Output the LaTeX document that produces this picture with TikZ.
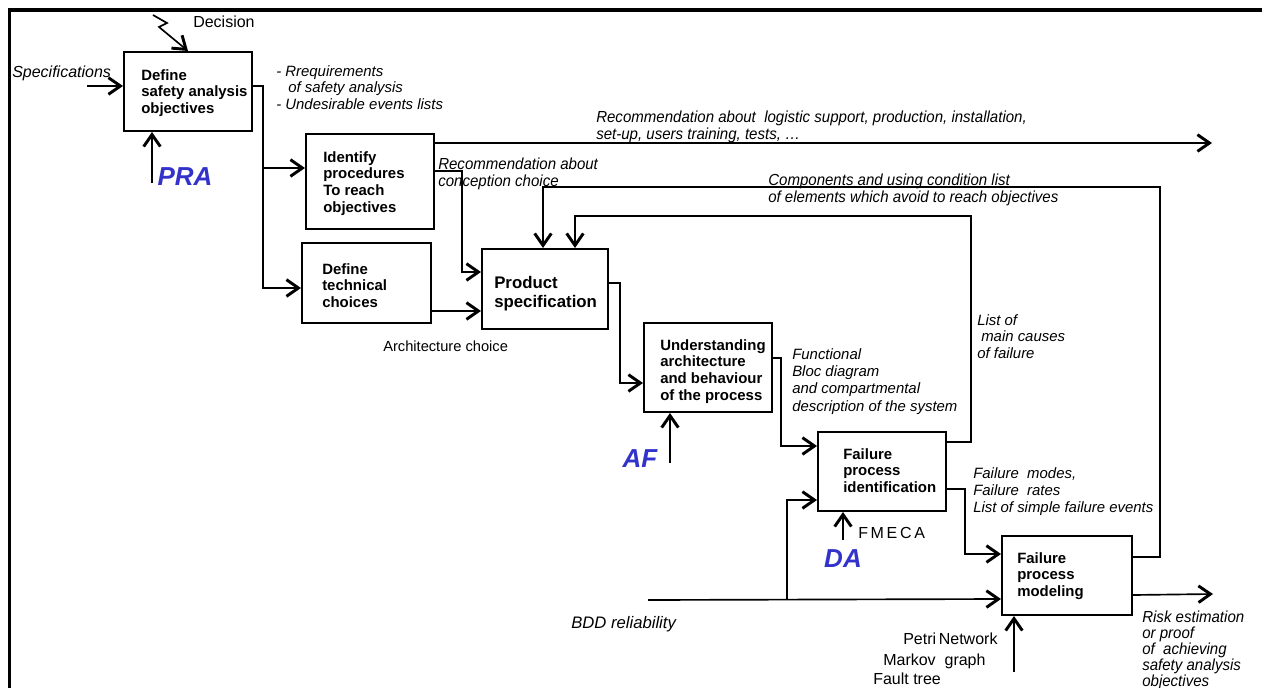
\documentclass[tikz,border=0pt]{standalone}
\usepackage{fontspec}
\setmainfont{Liberation Sans}
\newfontfamily\narrowfont[FakeStretch=0.94]{Liberation Sans}
\usetikzlibrary{arrows.meta,fit}
\definecolor{ablue}{RGB}{51,51,204}
\tikzset{
  box/.style={draw, line width=1.5pt, inner sep=0pt},
  conn/.style={line width=1.25pt, -{Straight Barb[length=9pt,width=12.5pt,line width=2.2pt]}},
  btxt/.style={anchor=north west, inner sep=0pt, align=left, font=\fontsize{11.2}{12.6}\selectfont\bfseries},
  ltxt/.style={anchor=north west, inner sep=0pt, align=left, font=\fontsize{11.2}{12.4}\selectfont\itshape},
  ntxt/.style={anchor=north west, inner sep=0pt, align=left, font=\narrowfont\fontsize{12}{12.6}\selectfont\itshape},
  utxt/.style={anchor=north west, inner sep=0pt, align=left, font=\fontsize{12}{14}\selectfont},
  big/.style={inner sep=0pt, text=ablue, font=\fontsize{19.5}{21}\selectfont\bfseries\itshape}
}
\begin{document}
\begin{tikzpicture}[x={(0.75pt,0)}, y={(0,-0.75pt)}]
\useasboundingbox (0,0) rectangle (1262,688);
% frame
\draw[line width=2.3pt] (1262,10) -- (9.5,10) -- (9.5,688);

% boxes
\node[box, fit={(124,52) (252,131)}] (b1) {};
\node[box, fit={(306,134) (434,229)}] (b2) {};
\node[box, fit={(302,243) (431,323)}] (b3) {};
\node[box, fit={(482,249) (608,329)}] (b4) {};
\node[box, fit={(644,323) (772,412)}] (b5) {};
\node[box, fit={(818,432) (946,511)}] (fpi) {};
\node[box, fit={(1002,536) (1132,615)}] (b6) {};

% box texts
\node[btxt] (t1) at (141,69) {Define\\safety analysis\\objectives};
\node[btxt] (t2) at (323,151) {Identify\\procedures\\To reach\\objectives};
\node[btxt] (t3) at (322,263) {Define\\technical\\choices};
\node[btxt, font=\fontsize{12.6}{14.6}\selectfont\bfseries] (t4) at (494,276) {Product\\specification};
\node[btxt] (t5) at (660,339) {Understanding\\architecture\\and behaviour\\of the process};
\node[btxt] (t6) at (843,448) {Failure\\process\\identification};
\node[btxt] (t7) at (1017,552) {Failure\\process\\modeling};

% labels
\node[utxt] (ldec) at (193,16) {Decision};
\node[ltxt, font=\fontsize{12}{14}\selectfont\itshape] (lspec) at (12,66) {Specifications};
\node[ltxt] (lreq) at (276,65) {- Rrequirements\\\hspace*{9pt}of safety analysis\\- Undesirable events lists};
\node[ntxt] (llog) at (596,111) {Recommendation about\ \ logistic support, production, installation,\\set-up, users training, tests, \dots};
\node[ntxt] (lcon) at (438,158) {Recommendation about\\conception choice};
\node[ntxt] (lcomp) at (768,174) {Components and using condition list\\of elements which avoid to reach objectives};
\node[utxt, font=\fontsize{11}{13}\selectfont] (larch) at (383,341) {Architecture choice};
\node[ltxt, font=\fontsize{11.2}{13}\selectfont\itshape] (lfun) at (792,348) {Functional\\Bloc diagram\\and compartmental\\description of the system};
\node[ltxt] (llist) at (977,314) {List of\\\hspace*{3pt}main causes\\of failure};
\node[ltxt, font=\fontsize{11.2}{12.8}\selectfont\itshape] (lfm) at (973,467) {Failure\ \ modes,\\Failure\ \ rates\\List of simple failure events};
\node[ntxt, font=\narrowfont\fontsize{12}{12}\selectfont\itshape] (lrisk) at (1142,611) {Risk estimation\\or proof\\of\ \ achieving\\safety analysis\\objectives};
\node[ltxt, font=\fontsize{12.5}{14}\selectfont\itshape] (lbdd) at (571,616) {BDD reliability};
\node[utxt] (lpetri) at (903,633) {Petri\,Network};
\node[utxt] (lmark) at (883,654) {Markov\ \ graph};
\node[utxt] (lfault) at (873,673) {Fault tree};
\node[utxt] (lfmeca) at (858,527) {F\,M\,E\,C\,A};

% method labels
\node[big] (pra) at (185,177) {PRA};
\node[big] (af) at (640,459) {AF};
\node[big] (da) at (843,559) {DA};

% free ends
\coordinate (specin) at (87,86);
\coordinate (decin) at (153,15);
\coordinate (prain) at (152,183);
\coordinate (afin) at (670,463);
\coordinate (fmin) at (843,540);
\coordinate (bddin) at (648,600);
\coordinate (botin) at (1014,672);
\coordinate (recout) at (1212,143);
\coordinate (riskout) at (1213,594);

% connectors
\draw[conn] (specin) -- (b1.west |- specin);
\draw[conn] (decin) -- (167,23) -- (159,27) -- (b1.north);
\draw[conn] (prain) -- (b1.south -| prain);
\draw[conn] (b1.east |- 0,86) -| (263,168) -- (b2.west |- 0,168);
\draw[conn] (263,168) |- (b3.west |- 0,288);
\draw[conn] (b2.east |- 0,143) -- (recout);
\draw[conn] (b2.east |- 0,171) -| (462,272) -- (b4.west |- 0,272);
\draw[conn] (b3.east |- 0,311) -- (b4.west |- 0,311);
\draw[conn] (b4.east |- 0,283) -| (620,383) -- (b5.west |- 0,383);
\draw[conn] (afin) -- (b5.south -| afin);
\draw[conn] (b5.east |- 0,358) -| (781,446) -- (fpi.west |- 0,446);
\draw[conn] (fpi.east |- 0,442) -| (971,216) -| (b4.north -| 575,0);
\draw[conn] (b6.east |- 0,557) -| (1160,187) -| (b4.north -| 543,0);
\draw[conn] (fpi.east |- 0,489) -| (965,554) -- (b6.west |- 0,554);
\draw[conn] (fmin) -- (fpi.south -| fmin);
\draw[conn] (bddin) -- (b6.west |- 0,599);
\draw[conn] (787,599) |- (fpi.west |- 0,500);
\draw[conn] (botin) -- (b6.south -| botin);
\draw[conn] (b6.east |- 0,595) -- (riskout);
\end{tikzpicture}
\end{document}
